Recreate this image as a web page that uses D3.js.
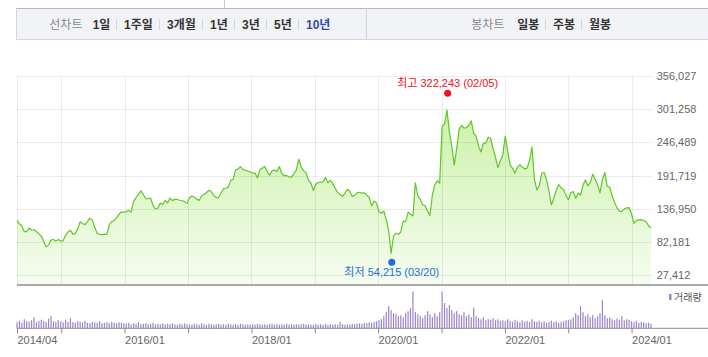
<!DOCTYPE html>
<html><head><meta charset="utf-8">
<script src="https://cdn.jsdelivr.net/npm/d3@7"></script>
<style>
html,body{margin:0;padding:0;background:#fff;}
svg{display:block;font-family:"Liberation Sans",Arial,"Noto Sans CJK KR",sans-serif;}
</style></head><body>
<svg id="c" width="708" height="357"></svg>
<script>
// ---------- data ----------
const lineTabs = ["1일","1주일","3개월","1년","3년","5년","10년"];
const candleTabs = ["일봉","주봉","월봉"];
const activeTab = "10년";
const lineTitle = "선차트";
const candleTitle = "봉차트";
const startDate = "2014-04-21";   // first period
const stepDays = 14;              // period length
const closeK = [
118.1,112.0,109.0,99.3,99.3,105.4,102.1,102.4,99.6,95.7,
91.7,83.1,74.2,77.9,85.6,86.4,84.1,86.3,83.6,84.6,
93.4,98.8,101.5,95.4,96.2,104.4,115.6,112.8,110.9,116.0,
121.7,118.4,106.7,96.3,94.7,94.5,95.3,95.0,111.0,115.8,
117.9,122.6,128.0,131.9,131.3,132.4,134.4,131.8,149.4,155.4,
161.1,166.7,160.7,153.6,153.9,154.9,142.3,136.7,137.9,146.8,
144.0,150.8,146.8,154.7,150.6,152.6,152.4,151.1,150.3,148.9,
146.0,155.2,158.2,156.5,152.7,150.9,158.2,160.5,163.5,167.6,
165.6,159.2,155.5,156.0,163.1,170.2,171.0,173.2,183.9,185.7,
201.5,202.4,206.7,202.2,200.4,199.4,198.1,195.8,196.1,188.0,
201.7,204.5,206.8,198.6,192.3,200.1,200.9,198.4,206.7,195.3,
191.6,191.9,189.5,189.4,195.1,201.1,219.0,205.7,200.1,196.3,
183.7,179.3,167.2,177.5,180.4,180.9,181.4,189.0,179.8,184.1,
178.6,170.9,164.1,160.5,157.4,163.0,169.2,165.6,157.5,159.3,
163.3,164.3,162.8,163.5,159.7,155.7,142.0,149.8,146.5,132.6,
129.6,133.4,119.3,101.5,63.7,91.9,96.8,95.0,98.8,117.3,
115.8,131.3,128.0,125.4,180.0,159.0,152.7,143.7,141.9,133.6,
126.0,160.2,176.8,183.3,179.6,273.0,276.4,300.0,264.7,239.8,
209.4,235.8,268.1,274.8,270.2,271.1,274.8,282.0,261.6,257.0,
240.3,230.8,245.2,245.5,255.1,253.4,236.1,221.6,204.9,216.4,
226.3,257.0,232.4,209.6,203.7,195.9,205.2,209.8,205.8,203.0,
204.0,217.4,239.0,185.8,168.3,175.0,195.6,196.9,185.2,166.1,
143.7,154.4,168.2,177.1,171.4,168.9,159.2,152.1,163.9,165.3,
154.4,163.1,159.8,176.2,184.6,175.0,180.6,194.0,185.6,176.6,
163.3,185.6,196.8,174.2,172.7,158.5,147.6,138.6,133.1,132.5,
136.6,138.6,138.9,128.5,113.2,117.9,118.8,119.3,117.8,115.8,
109.0,105.4
];
const volumeK = [
60,75,55,90,70,65,80,110,60,75,85,70,60,95,120,70,65,80,
70,60,85,65,100,60,55,70,65,60,75,55,50,65,60,55,70,50,55,60,50,65,55,50,60,55,
50,45,55,40,50,45,60,40,45,50,40,45,55,40,45,40,50,40,45,40,50,40,35,45,40,50,40,
40,35,45,40,35,50,40,35,45,40,35,40,45,35,40,35,45,40,35,40,35,45,40,35,40,
35,40,35,45,40,35,40,35,40,45,35,40,35,40,35,45,35,40,35,40,35,40,45,35,40,35,
35,40,35,40,35,45,35,40,35,40,35,65,40,35,40,35,45,40,45,50,45,55,50,60,55,65,
70,80,90,120,160,220,180,150,140,120,130,110,150,170,200,365,160,140,120,100,130,170,140,110,150,120,160,
365,250,200,230,180,150,170,140,130,160,120,140,110,205,120,100,90,110,80,90,85,100,80,90,75,
80,70,90,75,65,85,70,60,80,65,75,60,90,70,65,75,60,70,55,65,75,60,70,55,65,70,80,
85,90,110,150,130,220,160,120,140,110,130,100,120,150,283,130,100,110,90,80,95,85,120,80,90,85,
70,60,75,55,65,60,50,55,45
];
const yTicks = [27412, 82181, 136950, 191719, 246489, 301258, 356027];
const xTickDates = ["2014-04-21","2015-01-01","2016-01-01","2017-01-01","2018-01-01","2019-01-01","2020-01-01","2021-01-01","2022-01-01","2023-01-01","2024-01-01"];
const xTickLabels = ["2014/04","","2016/01","","2018/01","","2020/01","","2022/01","","2024/01"];
const highMark = {date:"2021-02-05", value:322243, label:"최고 322,243 (02/05)"};
const lowMark = {date:"2020-03-20", value:54215, label:"최저 54,215 (03/20)"};
const volumeLegend = "거래량";

// ---------- build ----------
const parse = d3.timeParse("%Y-%m-%d");
const t0 = parse(startDate);
const series = closeK.map((v,i)=>({date:d3.timeDay.offset(t0, i*stepDays), close:v*1000, vol:volumeK[i]}));

const svg = d3.select("#c");
const L=17, R=651, T=76, B=275.3, FB=285, VB=328.3, VT=290;

const x = d3.scaleTime().domain([series[0].date, series[series.length-1].date]).range([L,R]);
const y = d3.scaleLinear().domain([yTicks[0], yTicks[yTicks.length-1]]).range([B,T]);
const yv = d3.scaleLinear().domain([0,380]).range([VB,VT]);

// ---- header ----
svg.append("line").attr("x1",224.5).attr("x2",224.5).attr("y1",0).attr("y2",8).attr("stroke","#c9c9c9");
svg.append("rect").attr("x",16).attr("y",8.5).attr("width",692).attr("height",31).attr("fill","#f1f3f6");
svg.append("line").attr("x1",16).attr("x2",708).attr("y1",8.5).attr("y2",8.5).attr("stroke","#b8b8b8");
svg.append("line").attr("x1",16).attr("x2",708).attr("y1",39.5).attr("y2",39.5).attr("stroke","#d4d7dc");
svg.append("line").attr("x1",16.5).attr("x2",16.5).attr("y1",8.5).attr("y2",39.5).attr("stroke","#d4d7dc");
svg.append("line").attr("x1",366.5).attr("x2",366.5).attr("y1",8.5).attr("y2",39.5).attr("stroke","#d0d3d8");

function tabGroup(title, titleX, items, startX){
  svg.append("text").attr("x",titleX).attr("y",24.5).attr("dy","0.35em")
    .attr("font-size","12px").attr("fill","#8a8a8a").text(title);
  let cx = startX;
  items.forEach((it,i)=>{
    const t = svg.append("text").attr("x",cx).attr("y",24.5).attr("dy","0.35em")
      .attr("font-size","12px").attr("font-weight","bold")
      .attr("fill", it===activeTab ? "#2b4ea6" : "#333").text(it);
    const w = t.node().getComputedTextLength();
    if(i<items.length-1){
      const sx = Math.round(cx + w + 6) + 0.5;
      svg.append("line").attr("x1",sx).attr("x2",sx).attr("y1",19).attr("y2",30).attr("stroke","#d8d8d8");
      cx = sx + 7.5;
    }
  });
}
tabGroup(lineTitle, 49.3, lineTabs, 92.7);
tabGroup(candleTitle, 471.3, candleTabs, 517.3);

// ---- price area ----
const defs = svg.append("defs");
const g = defs.append("linearGradient").attr("id","ag").attr("gradientUnits","userSpaceOnUse")
  .attr("x1",0).attr("x2",0).attr("y1",T).attr("y2",FB);
g.append("stop").attr("offset","0%").attr("stop-color","#c3ef9a");
g.append("stop").attr("offset","100%").attr("stop-color","#f6fdf1");

svg.append("path").datum(series)
  .attr("d", d3.area().x(d=>x(d.date)).y0(FB).y1(d=>y(d.close)))
  .attr("fill","url(#ag)");

// grid
svg.append("g").selectAll("line").data(yTicks).join("line")
  .attr("x1",L).attr("x2",R+0.7).attr("y1",d=>Math.round(y(d))+0.5).attr("y2",d=>Math.round(y(d))+0.5)
  .attr("stroke","#000").attr("stroke-opacity",0.075);
svg.append("g").selectAll("line").data(xTickDates).join("line")
  .attr("x1",d=>Math.round(x(parse(d)))+0.5).attr("x2",d=>Math.round(x(parse(d)))+0.5)
  .attr("y1",T).attr("y2",FB).attr("stroke","#000").attr("stroke-opacity",0.075);

svg.append("path").datum(series)
  .attr("d", d3.line().x(d=>x(d.date)).y(d=>y(d.close)))
  .attr("fill","none").attr("stroke","#5fc726").attr("stroke-width",1.2).attr("stroke-linejoin","round");

// y axis labels
const ya = svg.append("g").attr("transform",`translate(${R+0.7},0)`)
  .call(d3.axisRight(y).tickValues(yTicks).tickSize(0).tickPadding(5).tickFormat(d3.format(",")));
ya.select(".domain").remove();
ya.selectAll("text").attr("font-size","11px").attr("fill","#666").attr("font-family",null);

// separator
svg.append("line").attr("x1",L).attr("x2",708).attr("y1",FB).attr("y2",FB).attr("stroke","#8f8f8f").attr("stroke-width",1.5);

// markers
function mark(m, color, off, labOff){
  const cx = x(parse(m.date)), cy = y(m.value)+off;
  svg.append("circle").attr("cx",cx).attr("cy",cy).attr("r",3.5).attr("fill",color);
  svg.append("text").attr("x",cx).attr("y",cy+labOff).attr("dy","0.35em").attr("text-anchor","middle")
    .attr("font-size","11px").attr("fill",color).text(m.label);
}
mark(highMark, "#ee1122", -3.3, -10);
mark(lowMark, "#1f6fd6", 3.3, 10);

// ---- volume ----
svg.append("g").selectAll("rect").data(series).join("rect")
  .attr("x",d=>x(d.date)-0.6).attr("width",1.2)
  .attr("y",d=>yv(d.vol)).attr("height",d=>VB-yv(d.vol))
  .attr("fill","#9a86c8");

svg.append("rect").attr("x",669).attr("y",294).attr("width",2.5).attr("height",6).attr("fill","#9a86c8");
svg.append("text").attr("x",674).attr("y",297).attr("dy","0.35em").attr("font-size","10px").attr("fill","#555").text(volumeLegend);

// x axis
const xa = svg.append("g").attr("transform",`translate(0,${VB})`)
  .call(d3.axisBottom(x).tickValues(xTickDates.map(parse)).tickSize(5).tickPadding(3)
    .tickFormat((d,i)=>xTickLabels[i]));
xa.select(".domain").remove();
xa.selectAll("line").attr("stroke","#8a8a8a");
xa.selectAll("text").attr("text-anchor","start").attr("font-size","11px").attr("fill","#666").attr("font-family",null);
svg.append("line").attr("x1",L).attr("x2",708).attr("y1",VB).attr("y2",VB).attr("stroke","#8a8a8a");
</script></body></html>
